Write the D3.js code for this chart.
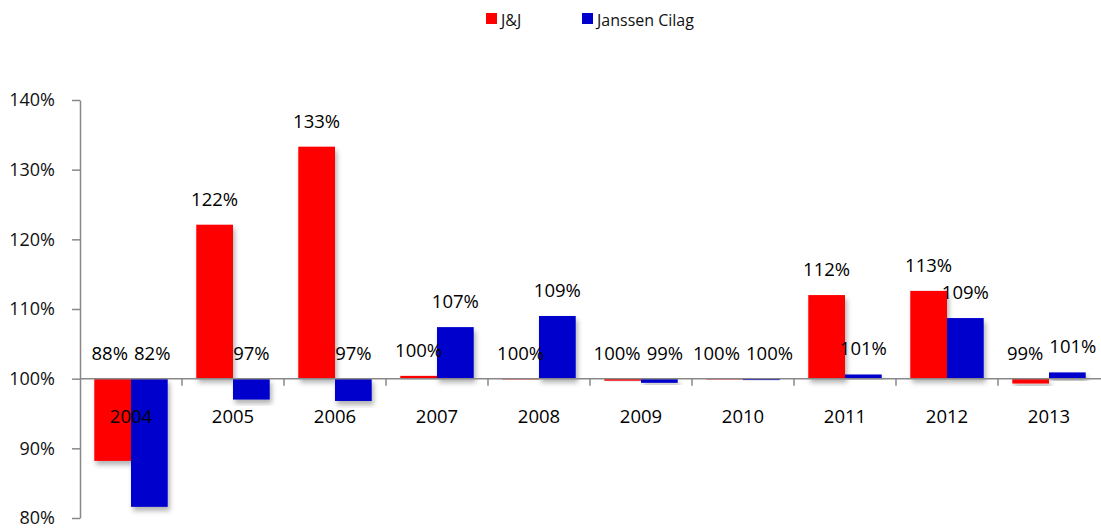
<!DOCTYPE html>
<html><head><meta charset="utf-8">
<script src="https://cdn.jsdelivr.net/npm/d3@7"></script>
<style>body{margin:0;background:#fff}svg{display:block}text{font-family:"Open Sans",sans-serif}</style>
</head><body><svg id="c" width="1101" height="529"></svg>
<script>
const categories = ["2004","2005","2006","2007","2008","2009","2010","2011","2012","2013"];
const seriesNames = ["J&J","Janssen Cilag"];
const jnj = [88.2,122.1,133.3,100.4,99.9,99.7,99.9,112.0,112.6,99.3];
const janssen = [81.6,97.0,96.8,107.4,109.0,99.4,99.8,100.6,108.7,100.9];
const yTicks = [80,90,100,110,120,130,140];
const colors = ["#FF0000","#0000CC"];

const svg = d3.select("#c");
const defs = svg.append("defs");
const f = defs.append("filter").attr("id","sh").attr("x","-20%").attr("y","-20%").attr("width","150%").attr("height","150%");
f.append("feDropShadow").attr("dx",2).attr("dy",4).attr("stdDeviation",2.5).attr("flood-color","#000").attr("flood-opacity",0.3);

const y = d3.scaleLinear().domain([80,140]).range([518,100]);
const x = d3.scaleBand().domain(categories).range([80,1100]).paddingInner(0.28).paddingOuter(0.14);
const xs = d3.scaleBand().domain([0,1]).range([0,x.bandwidth()]);
const series = [jnj, janssen];

// bars
const g = svg.append("g");
series.forEach((vals,si)=>{
  g.selectAll(".b"+si).data(vals).enter().append("rect")
    .attr("x",(d,i)=>x(categories[i])+xs(si))
    .attr("width",xs.bandwidth())
    .attr("y",d=>Math.min(y(d),y(100)))
    .attr("height",d=>Math.max(Math.abs(y(d)-y(100)),0.8))
    .attr("fill",colors[si])
    .attr("filter","url(#sh)");
});

// y axis
const yAxis = d3.axisLeft(y).tickValues(yTicks).tickFormat(d=>d+"%").tickSize(8).tickSizeOuter(0);
const ya = svg.append("g").attr("transform","translate(80,0)").call(yAxis);
ya.select(".domain").attr("stroke","#888").attr("stroke-width",1.5);
ya.selectAll(".tick line").attr("stroke","#888").attr("stroke-width",1.5);
ya.selectAll(".tick text").attr("font-size",18).attr("fill","#111").attr("x",-25).attr("font-family","'Open Sans',sans-serif");

// x axis line at 100%
const step = x.step();
const bounds = categories.map((c,i)=>x(c)-x.paddingOuter()*step).slice(1);
svg.append("line").attr("x1",80).attr("x2",1101).attr("y1",y(100)).attr("y2",y(100)).attr("stroke","#888").attr("stroke-width",1.5);
svg.selectAll(".xt").data(bounds).enter().append("line")
  .attr("x1",d=>d).attr("x2",d=>d).attr("y1",y(100)).attr("y2",y(100)+7)
  .attr("stroke","#888").attr("stroke-width",1.5);

// category labels
svg.selectAll(".cl").data(categories).enter().append("text")
  .attr("x",d=>x(d)+x.bandwidth()/2).attr("y",y(100)+44)
  .attr("text-anchor","middle").attr("font-size",18.5).attr("fill","#000").text(d=>d);

// value labels
const labels = series.map((vals,si)=>
  svg.selectAll(".vl"+si).data(vals).enter().append("text")
    .attr("x",(d,i)=>x(categories[i])+xs(si)+xs.bandwidth()/2)
    .attr("y",d=>Math.min(y(d),y(100))-19)
    .attr("text-anchor","middle").attr("font-size",18.5).attr("fill","#000")
    .text(d=>Math.round(d)+"%")
);
// spread labels of a group apart if they collide
const n0 = labels[0].nodes(), n1 = labels[1].nodes();
categories.forEach((c,i)=>{
  const a=n0[i], b=n1[i];
  const ay=+a.getAttribute("y"), by=+b.getAttribute("y");
  if (Math.abs(ay-by) > 16) return;
  const ax=+a.getAttribute("x"), bx=+b.getAttribute("x");
  const aw=a.getComputedTextLength(), bw=b.getComputedTextLength();
  const gap = (bx-bw/2)-(ax+aw/2);
  const need = 6 - gap;
  if (need>0){
    a.setAttribute("x", ax-need/2);
    b.setAttribute("x", bx+need/2);
  }
});

// legend
const lg = svg.append("g");
const lx = [486,582];
seriesNames.forEach((n,i)=>{
  lg.append("rect").attr("x",lx[i]).attr("y",13).attr("width",11).attr("height",11).attr("fill",colors[i]);
  lg.append("text").attr("x",lx[i]+15).attr("y",25.5).attr("font-size",16).attr("fill","#111").text(n);
});
</script></body></html>
